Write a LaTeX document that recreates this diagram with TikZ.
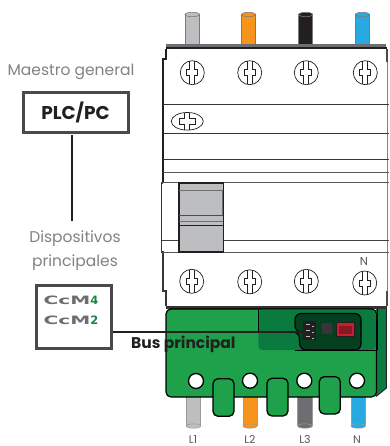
\documentclass[tikz,border=0pt]{standalone}
\usepackage{fontspec}
\usepackage{graphicx}
\setmainfont{Poppins}
\newfontfamily\logofont{DejaVu Sans}
\definecolor{ink}{HTML}{231F20}
\definecolor{frame}{HTML}{4A4A4A}
\definecolor{lab}{HTML}{808285}
\definecolor{wgray}{HTML}{BCBEC0}
\definecolor{worange}{HTML}{F7941D}
\definecolor{wblue}{HTML}{27AAE1}
\definecolor{wdark}{HTML}{6D6E71}
\definecolor{gmain}{HTML}{1FA04A}
\definecolor{gdark}{HTML}{0B7A3E}
\definecolor{gdeep}{HTML}{04401F}
\definecolor{gnum}{HTML}{0F8A40}
\definecolor{rd}{HTML}{C4202E}
\tikzset{
  x=1pt,y=-1pt,
  boxnode/.style={draw=frame,line width=3pt,fill=white,inner sep=0pt,anchor=north west},
  graylabel/.style={text=lab,font=\fontsize{15.5}{24}\selectfont,align=center,inner sep=0pt},
  wirelabel/.style={text=ink!75,font=\fontsize{11}{12}\selectfont,inner sep=0pt,anchor=base},
  bodyline/.style={draw=ink!90,line width=1pt},
  heavy/.style={draw=ink,line width=1.6pt},
  buswire/.style={draw=ink,line width=2pt},
  tabshape/.style={draw=black,line width=1.3pt,fill=gmain,rounded corners=5pt},
  holeshape/.style={draw=black,line width=1.3pt,fill=white},
  screwline/.style={draw=ink,line width=.7pt},
  screw/.pic={
    \draw[screwline,fill=white] (0,0) circle (12);
    \draw[screwline] (-2.5,-11.7) -- (-2.5,-3) -- (-5.5,-3) -- (-5.5,3) -- (-2.5,3) -- (-2.5,11.7)
      (2.5,-11.7) -- (2.5,-3) -- (5.5,-3) -- (5.5,3) -- (2.5,3) -- (2.5,11.7);
  }
}
\newcommand{\topwire}[3]{%
  \fill[#1] (#2,14) -- (#2,45) -- (#3,45) -- (#3,14) -- cycle;
  \draw[ink!60,line width=.6pt,fill=#1] ({(#2+#3)/2},14.5) ellipse ({(#3-#2)/2} and 2.2);
  \draw[ink!60,line width=.6pt] (#2,14) -- (#2,45) (#3,14) -- (#3,45);
}
\newcommand{\botwire}[3]{%
  \fill[#1] (#2,396) -- (#2,426) -- (#3,426) -- (#3,396) -- cycle;
  \draw[ink!45,line width=.6pt,fill=#1] ({(#2+#3)/2},426) ellipse ({(#3-#2)/2} and 2.2);
  \draw[ink!45,line width=.6pt] (#2,396) -- (#2,426) (#3,396) -- (#3,426);
}
\begin{document}
\begin{tikzpicture}
\useasboundingbox (0,0) rectangle (389,446);
\clip (0,0) rectangle (389,446);
\fill[white] (0,0) rectangle (389,446);
% top wires
\topwire{wgray}{185}{199.5}
\topwire{worange}{241.7}{255.3}
\topwire{ink}{298.7}{312.7}
\topwire{wblue}{355.3}{369.3}
% breaker body
\fill[white] (163,49) rectangle (387,306);
\draw[heavy] (166,49) -- (166,59) -- (163,59) -- (163,183);
\draw[heavy,draw=ink!90] (163,183) -- (161.5,183) -- (161.5,252) -- (163,252) -- (163,291) -- (166,291) -- (166,306);
\draw[draw=frame,line width=1.4pt] (386.8,49) -- (386.8,62);
\draw[draw=lab,line width=.8pt] (387.8,62) -- (387.8,291);
\draw[draw=frame,line width=1.4pt] (386.8,291) -- (386.8,306);
\fill[wdark] (166,44.5) rectangle (386,47);
\fill[ink] (166,47) rectangle (387,49.5);
\draw[bodyline] (163,104.3) -- (389,104.3);
\draw[bodyline] (163,133.7) -- (389,133.7);
\draw[bodyline] (163,159.7) -- (389,159.7);
\draw[bodyline,draw=ink!75] (163,173) -- (389,173);
\draw[bodyline,draw=ink!75] (161.5,183) -- (389,183);
\draw[bodyline,draw=ink!85,line width=1.4pt] (161.5,240.7) -- (389,240.7);
\draw[bodyline,draw=ink!75] (161.5,252) -- (389,252);
% screws
\pic at (192.3,72.7) {screw};
\pic at (249.7,72.7) {screw};
\pic at (306.3,72.7) {screw};
\pic at (365.3,72.7) {screw};
\pic at (191.7,281.3) {screw};
\pic at (249.7,281.8) {screw};
\pic at (306.3,281.3) {screw};
\pic at (364.7,283) {screw};
% oval screw
\draw[screwline] (187.3,121.3) ellipse (16 and 8.8);
\draw[screwline] (184.8,112.6) -- (184.8,118) -- (179.5,118) -- (179.5,124.6) -- (184.8,124.6) -- (184.8,130)
  (189.8,112.6) -- (189.8,118) -- (195,118) -- (195,124.6) -- (189.8,124.6) -- (189.8,130);
% switch
\fill[wgray] (179,183.3) rectangle (223.3,251.7);
\draw[draw=ink,line width=1.6pt] (179,183.3) rectangle (223.3,251.7);
\draw[draw=wdark,line width=1pt] (179,190) -- (223.3,190);
\draw[draw=wdark,line width=.8pt] (222,190) -- (222,215);
\draw[draw=ink!80,line width=1pt] (179,215.7) -- (223.3,215.7);
\draw[draw=wdark,line width=.8pt] (179,221.3) -- (223.3,221.3);
\draw[draw=ink,line width=1.2pt] (179,225.3) -- (223.3,225.3);
\node[text=ink!75,font=\fontsize{11.5}{13}\selectfont,inner sep=0pt] (nlabel) at (364,261) {N};
% bottom wires
\botwire{wgray}{186.3}{200.7}
\botwire{worange}{243}{257}
\botwire{wdark}{297.7}{312.3}
\botwire{wblue}{351}{365.3}
% green module
\fill[gdark] (376,309) -- (386,306) -- (386.5,388) -- (376,396.5) -- cycle;
\draw[black,line width=.8pt] (377,309) -- (377,350);
\draw[ink,line width=.9pt] (376,396.5) -- (386.5,388) -- (386.5,306);
\fill[black!80] (166,306) rectangle (387,308.6);
\draw[black,line width=1.2pt,fill=gmain,rounded corners=5pt] (166,309) rectangle (376.5,397);
\fill[gdark,rounded corners=4pt] (258.3,309.7) -- (372,309.7) -- (375.8,312) -- (375.8,350) -- (258.3,350) -- cycle;
\draw[black,line width=.9pt] (258.3,309.5) -- (258.3,332) (295,350) -- (376.5,350);
\draw[black,line width=1.1pt,fill=gdeep,rounded corners=6pt] (295,313.5) -- (361,313.5) -- (361,350) -- (300,350) -- (299,332) -- (295,332) -- cycle;
\fill[ink] (303.3,321) rectangle (316,340);
\foreach \yy in {324,330,336}{\fill[wgray] (306,\yy) rectangle (310,\yy+1);\fill[wgray] (311.5,\yy+2) rectangle (314,\yy+3);}
\fill[ink!90,rounded corners=2pt] (321.5,323) rectangle (332.5,334);
\draw[ink,line width=.8pt,fill=rd] (336.3,322.7) rectangle (354.3,336.7);
\fill[rd!70!black] (339,325.5) rectangle (351.5,333.5);
% holes
\node[holeshape,circle,minimum size=15pt,inner sep=0pt] (h1) at (196,381) {};
\node[holeshape,circle,minimum size=15pt,inner sep=0pt] (h2) at (250,380.7) {};
\node[holeshape,circle,minimum size=15pt,inner sep=0pt] (h3) at (304.3,380.7) {};
\node[holeshape,circle,minimum size=15pt,inner sep=0pt] (h4) at (357,380.7) {};
% tabs
\draw[tabshape] (213,378.7) rectangle (234,416.3);
\draw[tabshape] (267,378.3) rectangle (288,416);
\draw[tabshape] (319.3,376.7) rectangle (340.3,414);
% wire labels
\node[wirelabel] (l1) at (193,443) {L1};
\node[wirelabel] (l2) at (250,443) {L2};
\node[wirelabel] (l3) at (305,443) {L3};
\node[wirelabel] (ln) at (357,443) {N};
% left side
\node[graylabel] (maestro) at (71,71.5) {Maestro general};
\node[boxnode,minimum width=105pt,minimum height=39.5pt,font=\bfseries\fontsize{18.5}{21}\selectfont,text=ink] (plc) at (21.5,91.5) {PLC/PC};
\node[graylabel] (disp) at (75,251) {Dispositivos\\principales};
\node[boxnode,minimum width=75.5pt,minimum height=63.5pt] (devs) at (34.5,283.5) {};
\node[font=\logofont\bfseries\fontsize{11.5}{12}\selectfont,inner sep=0pt] (ccm4) at (71,300) {\textcolor{wdark}{\scalebox{1.75}[1]{CcM}}\textcolor{gnum}{4}};
\node[font=\logofont\bfseries\fontsize{11.5}{12}\selectfont,inner sep=0pt] (ccm2) at (71,320) {\textcolor{wdark}{\scalebox{1.75}[1]{CcM}}\textcolor{gnum}{2}};
\coordinate (busend) at (306,331.7);
\coordinate (buswest) at (devs.east |- busend);
\draw[buswire] (buswest) -- (busend);
\coordinate (droptop) at (72,135);
\coordinate (dropbot) at (72,221);
\draw[buswire] (droptop) -- (dropbot);
\node[font=\bfseries\fontsize{15.5}{18}\selectfont,text=ink,inner sep=0pt,anchor=west] (bus) at (131,344) {Bus principal};
\end{tikzpicture}
\end{document}
